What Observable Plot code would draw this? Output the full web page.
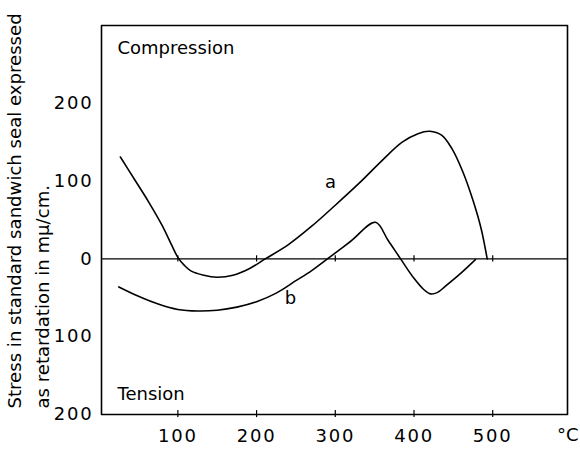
<!DOCTYPE html>
<html>
<head>
<meta charset="utf-8">
<script src="https://cdn.jsdelivr.net/npm/d3@7"></script>
<script src="https://cdn.jsdelivr.net/npm/@observablehq/plot@0.6"></script>
<style>
  html, body { margin: 0; padding: 0; background: white; }
  g[aria-label="x-axis tick label"] text,
  g[aria-label="y-axis tick label"] text { letter-spacing: 1.8px; }
</style>
</head>
<body>
<div id="chart"></div>
<script>
// ---- data ----
const xDomain = [3, 595];
const yDomain = [-200, 300];
const xTicks = [100, 200, 300, 400, 500];
const yTicks = [200, 100, 0, -100, -200];
const yTickLabels = ["200", "100", "0", "100", "200"];

const curveAx = [27, 45, 63, 80, 92, 100, 108, 116, 133, 150, 170, 190, 211, 240, 270, 300, 330, 360, 385, 405, 420, 435, 448, 462, 475, 485, 493];
const curveAy = [131, 102, 73, 43, 18, 2, -8, -15, -21, -23.5, -21, -13, 0, 18, 42, 69, 97, 127, 150, 161, 164, 159, 142, 112, 75, 40, 0];

const curveBx = [25, 50, 75, 100, 125, 150, 175, 200, 225, 250, 270, 290, 320, 351, 367, 383, 400, 412, 421, 430, 440, 460, 478];
const curveBy = [-36, -48, -58, -65, -67, -66, -62, -55, -44, -28, -15, 0, 23, 47, 24, 0, -25, -39, -45, -43, -35, -18, -1];

const seriesLabels = ["a", "b"];
const seriesLabelX = [294, 243];
const seriesLabelY = [99, -51];

const yTitle1 = "Stress in standard sandwich seal expressed";
const yTitle2 = "as retardation in m\u03BC/cm.";
const xUnit = "\u00B0C";
const topNote = "Compression";
const bottomNote = "Tension";

// ---- build tables ----
const dataA = curveAx.map((x, i) => ({x, y: curveAy[i]}));
const dataB = curveBx.map((x, i) => ({x, y: curveBy[i]}));
const labelData = seriesLabels.map((t, i) => ({t, x: seriesLabelX[i], y: seriesLabelY[i]}));
const frameData = [
  {x: xDomain[0], y: yDomain[0]}, {x: xDomain[0], y: yDomain[1]},
  {x: xDomain[1], y: yDomain[1]}, {x: xDomain[1], y: yDomain[0]},
  {x: xDomain[0], y: yDomain[0]}
];

const chart = Plot.plot({
  width: 580,
  height: 449,
  marginLeft: 101,
  marginRight: 13,
  marginTop: 25,
  marginBottom: 35,
  style: {fontFamily: "DejaVu Sans, sans-serif", fontSize: "18px", background: "white", color: "black", overflow: "visible"},
  x: {domain: xDomain},
  y: {domain: yDomain},
  marks: [
    Plot.ruleY([0], {stroke: "black", strokeWidth: 1.2}),
    Plot.axisX({ticks: xTicks, tickSize: 0, tickPadding: 15, label: null, tickFormat: d => String(d)}),
    Plot.axisY({ticks: yTicks, tickSize: 0, tickPadding: 8, label: null, tickFormat: d => yTickLabels[yTicks.indexOf(d)]}),
    Plot.ruleX(xTicks, {y1: -204, y2: -195, stroke: "black", strokeWidth: 1.2}),
    Plot.ruleX(xTicks, {y1: -4, y2: 4, stroke: "black", strokeWidth: 1.2}),
    Plot.line(dataA, {x: "x", y: "y", curve: "catmull-rom", stroke: "black", strokeWidth: 1.6}),
    Plot.line(dataB, {x: "x", y: "y", curve: "catmull-rom", stroke: "black", strokeWidth: 1.6}),
    Plot.text(labelData, {x: "x", y: "y", text: "t"}),
    Plot.text([topNote], {text: d => d, frameAnchor: "top-left", textAnchor: "start", lineAnchor: "middle", dx: 16, dy: 23}),
    Plot.text([bottomNote], {text: d => d, frameAnchor: "bottom-left", textAnchor: "start", lineAnchor: "middle", dx: 16, dy: -20}),
    Plot.text([xUnit], {text: d => d, frameAnchor: "bottom-right", textAnchor: "end", lineAnchor: "middle", dx: 11, dy: 21}),
    Plot.text([yTitle1], {text: d => d, frameAnchor: "bottom-left", rotate: -90, textAnchor: "start", lineAnchor: "middle", dx: -86, dy: -6, fontSize: 18.1}),
    Plot.text([yTitle2], {text: d => d, frameAnchor: "bottom-left", rotate: -90, textAnchor: "start", lineAnchor: "middle", dx: -58, dy: -6, fontSize: 18.1}),
    Plot.line(frameData, {x: "x", y: "y", stroke: "black", strokeWidth: 1.6, curve: "linear"})
  ]
});
document.getElementById("chart").appendChild(chart);
</script>
</body>
</html>
